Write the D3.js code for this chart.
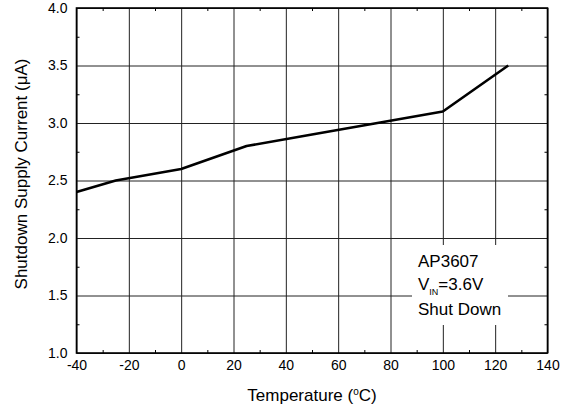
<!DOCTYPE html>
<meta charset="utf-8">
<style type="text/css">

body { margin: 0; background: #fff; }

svg { font-family: "Liberation Sans", Arial, sans-serif; }

.grid line { stroke: #222; stroke-width: 1; }
.grid .domain { display: none; }

.minor line { stroke: #000; stroke-width: 1; }
.minor .domain { display: none; }

.lbl text { font-size: 14px; fill: #000; }
.lbl line, .lbl .domain { display: none; }

.frame { fill: none; stroke: #000; stroke-width: 1.6; }

.curve { fill: none; stroke: #000; stroke-width: 2.6; stroke-linejoin: round; }

.title { font-size: 17px; fill: #000; }
.note { font-size: 17px; fill: #000; }

</style>
<svg width="571" height="413"></svg>
<script src="https://cdnjs.cloudflare.com/ajax/libs/d3/7.8.5/d3.min.js"></script>
<script>

// data
var temps   = [-40, -25, 0, 25, 50, 75, 100, 125];
var current = [2.4, 2.5, 2.6, 2.8, 2.9, 3.0, 3.1, 3.5];

var xTicks = [-40, -20, 0, 20, 40, 60, 80, 100, 120, 140];
var yTicks = [1.0, 1.5, 2.0, 2.5, 3.0, 3.5, 4.0];
var xMinor = [-30, -10, 10, 30, 50, 70, 90, 110, 130];
var yMinor = [1.25, 1.75, 2.25, 2.75, 3.25, 3.75];

var svg = d3.select("svg");

// plot box (window.top is reserved, so prefixed names)
var pLeft = 76.5, pRight = 547.5, pTop = 8, pBottom = 353;
var w = pRight - pLeft, h = pBottom - pTop;

var x = d3.scaleLinear().domain([-40, 140]).range([pLeft, pRight]);
var y = d3.scaleLinear().domain([1, 4]).range([pBottom, pTop]);

// major gridlines
svg.append("g").attr("class", "grid")
   .attr("transform", "translate(0," + pBottom + ")")
   .call(d3.axisBottom(x).tickValues(xTicks).tickSize(-h).tickFormat(""));

svg.append("g").attr("class", "grid")
   .attr("transform", "translate(" + pLeft + ",0)")
   .call(d3.axisLeft(y).tickValues(yTicks).tickSize(-w).tickFormat(""));

// small inward ticks on all four sides
svg.append("g").attr("class", "minor")
   .attr("transform", "translate(0," + pBottom + ")")
   .call(d3.axisBottom(x).tickValues(xMinor).tickSize(-3).tickFormat(""));
svg.append("g").attr("class", "minor")
   .attr("transform", "translate(0," + pTop + ")")
   .call(d3.axisTop(x).tickValues(xMinor).tickSize(-3).tickFormat(""));
svg.append("g").attr("class", "minor")
   .attr("transform", "translate(" + pLeft + ",0)")
   .call(d3.axisLeft(y).tickValues(yMinor).tickSize(-3).tickFormat(""));
svg.append("g").attr("class", "minor")
   .attr("transform", "translate(" + pRight + ",0)")
   .call(d3.axisRight(y).tickValues(yMinor).tickSize(-3).tickFormat(""));

// tick labels (plain hyphen for negatives, as in the original)
svg.append("g").attr("class", "lbl")
   .attr("transform", "translate(0," + pBottom + ")")
   .call(d3.axisBottom(x).tickValues(xTicks).tickSize(0).tickPadding(7)
           .tickFormat(function(d) { return String(d); }));

svg.append("g").attr("class", "lbl")
   .attr("transform", "translate(" + pLeft + ",0)")
   .call(d3.axisLeft(y).tickValues(yTicks).tickSize(0).tickPadding(9)
           .tickFormat(function(d) { return d.toFixed(1); }));

// legend box (white, hides grid)
svg.append("rect")
   .attr("x", 412).attr("y", 245)
   .attr("width", 96).attr("height", 80)
   .attr("fill", "#fff");

var note = svg.append("g").attr("class", "note");
note.append("text").attr("x", 418).attr("y", 267).text("AP3607");
var vin = note.append("text").attr("x", 418).attr("y", 290);
vin.append("tspan").text("V");
vin.append("tspan").attr("dy", 5).style("font-size", "9px").text("IN");
vin.append("tspan").attr("dy", -5).text("=3.6V");
note.append("text").attr("x", 418).attr("y", 315).text("Shut Down");

// frame
svg.append("rect").attr("class", "frame")
   .attr("x", pLeft).attr("y", pTop)
   .attr("width", w).attr("height", h);

// curve
var line = d3.line()
   .x(function(d, i) { return x(temps[i]); })
   .y(function(d) { return y(d); });

svg.append("path").attr("class", "curve")
   .attr("d", line(current));

// axis titles
var xt = svg.append("text").attr("class", "title")
   .attr("x", (pLeft + pRight) / 2).attr("y", 401)
   .attr("text-anchor", "middle");
xt.append("tspan").text("Temperature (");
xt.append("tspan").attr("dy", -6).style("font-size", "10px").text("o");
xt.append("tspan").attr("dy", 6).text("C)");

svg.append("text").attr("class", "title")
   .attr("transform", "translate(27," + 174 + ") rotate(-90)")
   .attr("text-anchor", "middle")
   .text("Shutdown Supply Current (\u03bcA)");

</script>
